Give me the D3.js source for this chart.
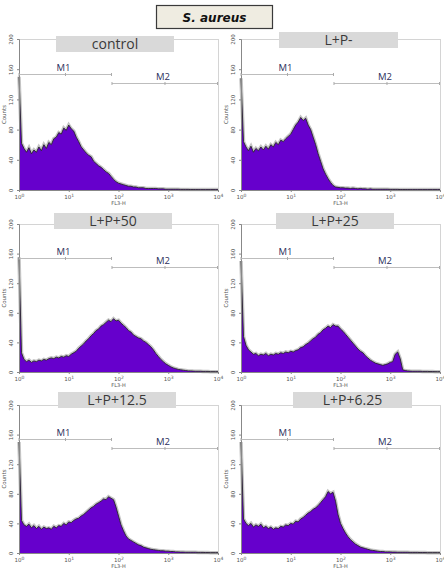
<!DOCTYPE html>
<html><head><meta charset="utf-8">
<script src="https://cdn.jsdelivr.net/npm/d3@7"></script>
<style>body{margin:0;background:#fff}svg{display:block}</style>
</head><body><svg id="c" width="444" height="569"></svg>
<script>
const chartTitle = "S. aureus";
const panelLabels = ["control","L+P-","L+P+50","L+P+25","L+P+12.5","L+P+6.25"];
const yTicks = [0,40,80,120,160,200];
const xTicks = [1,10,100,1000,10000];
const xTickExp = ["0","1","2","3","4"];
const markerNames = ["M1","M2"];
const markerRanges = [[1,74],[74,10000]];
const markerLevels = [154,142];
const xLabel = "FL3-H";
const yLabel = "Counts";

const histControl = [150,62,55,50,56,48,53,50,57,52, 60,55,63,60,68,70,76,74,82,79, 86,81,78,70,64,57,53,49,46,44, 38,35,32,30,27,24,22,18,14,11, 9,8,7,6,5,5,4,4,3,3, 3,2,2,2,2,2,1.5,1.5,1.5,1, 1,1,1,1,1,0.8,0.8,0.8,0.8,0.6, 0.6,0.6,0.5,0.5,0.5,0.5,0.5,0.5,0.5,0.5];
const histLPminus = [148,64,57,52,58,50,55,52,57,53, 58,54,60,57,63,60,66,64,68,71, 74,80,86,90,96,92,95,86,80,70, 60,48,38,28,21,15,10,6,4,3.5, 3,3,2.5,2.5,2,2.5,2,1.5,2,1.5, 1.5,1,1.5,1,1,1,1,1,1,1, 0.8,0.8,0.8,0.8,0.6,0.6,0.6,0.6,0.5,0.5, 0.5,0.5,0.5,0.5,0.5,0.5,0.5,0.5,0.5,0.5];
const histLP50 = [155,26,17,14,16,13,15,14,16,15, 17,16,18,19,18,20,19,21,20,22, 21,24,26,28,32,35,38,42,45,49, 52,56,58,62,64,67,70,68,72,69, 70,66,63,60,56,54,50,48,46,45, 42,40,37,34,30,25,21,17,14,11, 9,7,5.5,4.5,3.5,3,2.5,2,1.5,1.5, 1.2,1,1,1,0.8,0.8,0.8,0.5,0.5,0.5];
const histLP25 = [150,48,36,30,27,24,25,22,24,23, 25,22,24,23,25,24,26,25,27,26, 28,27,29,30,33,34,37,39,42,45, 47,51,53,57,59,62,60,64,62,62, 58,55,51,47,43,39,35,31,28,26, 22,19,16,14,12,11,10,9,10,11, 13,14,24,27,18,3,2,1.5,1.2,1, 1,1,1,0.8,0.8,0.8,0.6,0.6,0.5,0.5];
const histLP12 = [150,44,38,36,39,34,37,33,36,32, 35,33,34,32,36,34,37,36,40,38, 42,41,44,46,47,50,52,55,58,61, 63,66,68,70,73,72,76,74,72,62, 50,38,30,23,19,17,15,13,11,10, 8,7,6,5,4.5,4,3.5,3,3,2.5, 2.5,2,2,1.5,1.5,1.2,1.2,1,1,1, 1,1,0.8,0.8,0.8,0.6,0.6,0.5,0.5,0.5];
const histLP6 = [150,46,40,37,40,35,38,36,39,34, 36,33,35,32,34,33,36,35,38,37, 40,39,43,42,46,48,51,54,56,59, 61,64,68,72,76,83,80,82,70,52, 40,33,27,22,18,15,12,10,8,7, 6,5,4,3.5,3,2.5,2,2,1.5,1.5, 1.5,1.2,1.2,1,1,1,1,1,0.8,0.8, 0.8,0.8,0.6,0.6,0.6,0.5,0.5,0.5,0.5,0.5];
const histograms = [histControl, histLPminus, histLP50, histLP25, histLP12, histLP6];

// layout (pixel geometry, kept separate from data)
const layout = [
  {x0:19, x1:218, y0:39, y1:190, bx:56, bw:118, by:36},
  {x0:241,x1:440, y0:39, y1:190, bx:279,bw:119, by:32},
  {x0:19, x1:218, y0:224,y1:372, bx:54, bw:118, by:213},
  {x0:241,x1:440, y0:224,y1:372, bx:276,bw:118, by:213},
  {x0:19, x1:218, y0:405,y1:553, bx:58, bw:118, by:392},
  {x0:241,x1:440, y0:405,y1:553, bx:293,bw:119, by:392}
];

const svg = d3.select("#c");

// title box
svg.append("rect").attr("x",156.5).attr("y",5.5).attr("width",116).attr("height",23)
  .attr("fill","#efece1").attr("stroke","#3a3a3a").attr("stroke-width",1.2);
svg.append("text").attr("x",214.5).attr("y",21.5).attr("text-anchor","middle")
  .attr("font-family","DejaVu Sans").attr("font-weight","bold").attr("font-style","italic")
  .attr("font-size",12).attr("fill","#111").text(chartTitle);

histograms.forEach((vals, k) => {
  const L = layout[k];
  const g = svg.append("g");
  const x = d3.scaleLog().domain([1,10000]).range([L.x0, L.x1]);
  const y = d3.scaleLinear().domain([0,200]).range([L.y1, L.y0]);
  const step = 4 / vals.length;
  const pts = vals.map((v,i) => ({e: Math.pow(10, i*step), v}));
  pts.push({e: 10000, v: vals[vals.length-1]});

  // frame (light)
  g.append("line").attr("x1",L.x0).attr("x2",L.x1).attr("y1",L.y0+0.5).attr("y2",L.y0+0.5).attr("stroke","#d4d4d4");
  g.append("line").attr("x1",L.x1+0.5).attr("x2",L.x1+0.5).attr("y1",L.y0).attr("y2",L.y1).attr("stroke","#d4d4d4");

  // histogram
  const area = d3.area().curve(d3.curveLinear).x(d=>x(d.e)).y0(y(0)).y1(d=>y(d.v));
  const line = d3.line().curve(d3.curveLinear).x(d=>x(d.e)).y(d=>y(d.v));
  g.append("path").datum(pts).attr("d",line).attr("fill","none")
    .attr("stroke","#8a8a8a").attr("stroke-width",3.5).attr("stroke-opacity",0.5);
  g.append("path").datum(pts).attr("d",area).attr("fill","#6600cc");
  g.append("path").datum(pts).attr("d",line).attr("fill","none")
    .attr("stroke","#222").attr("stroke-width",1).attr("stroke-opacity",0.85);

  // axes
  const ya = g.append("g").attr("transform",`translate(${L.x0},0)`)
    .call(d3.axisLeft(y).tickValues(yTicks).tickSize(2).tickFormat(""));
  ya.select(".domain").attr("stroke","#888");
  ya.selectAll(".tick line").attr("stroke","#888");
  ya.selectAll(".tick").append("text").attr("transform","translate(-6,0) rotate(-90)")
    .attr("text-anchor","middle").attr("font-size",5.5).attr("font-family","DejaVu Sans")
    .attr("fill","#555").attr("stroke","none").text(d=>d);

  const xa = g.append("g").attr("transform",`translate(0,${L.y1})`)
    .call(d3.axisBottom(x).tickValues(xTicks).tickSize(2).tickFormat(""));
  xa.select(".domain").attr("stroke","#888");
  xa.selectAll(".tick line").attr("stroke","#888");
  xa.selectAll(".tick").each(function(d,i){
    const t = d3.select(this).append("text").attr("y",9).attr("text-anchor","middle")
      .attr("font-size",5.5).attr("font-family","DejaVu Sans").attr("fill","#555");
    t.append("tspan").text("10");
    t.append("tspan").attr("dy",-2.5).attr("font-size",4.5).text(xTickExp[i]);
  });
  g.append("text").attr("x",(L.x0+L.x1)/2).attr("y",L.y1+15).attr("text-anchor","middle")
    .attr("font-size",5).attr("font-family","DejaVu Sans").attr("fill","#555").text(xLabel);
  g.append("text").attr("transform",`translate(${L.x0-13},${(L.y0+L.y1)/2}) rotate(-90)`)
    .attr("text-anchor","middle").attr("font-size",5.5).attr("font-family","DejaVu Sans")
    .attr("fill","#555").text(yLabel);

  // markers
  markerNames.forEach((m,j) => {
    const [a,b] = markerRanges[j];
    const yy = Math.round(y(markerLevels[j])) + 0.5;
    const xa0 = x(a), xb0 = x(b), xm = x(Math.sqrt(a*b));
    g.append("line").attr("x1",xa0).attr("x2",xb0).attr("y1",yy).attr("y2",yy).attr("stroke","#bdbdbd");
    [xa0, xb0 - 0.5, xm].forEach(px => {
      g.append("line").attr("x1",px).attr("x2",px).attr("y1",yy-1.5).attr("y2",yy+1.5).attr("stroke","#aaa");
    });
    g.append("text").attr("x",xm-2).attr("y",yy-4).attr("text-anchor","middle")
      .attr("font-family","Open Sans").attr("font-size",9.5).attr("fill","#2c2f5c").text(m);
  });

  // label box
  g.append("rect").attr("x",L.bx).attr("y",L.by).attr("width",L.bw).attr("height",16).attr("fill","#d9d9d9");
  g.append("text").attr("x",L.bx+L.bw/2).attr("y",L.by+13).attr("text-anchor","middle")
    .attr("font-family","Open Sans").attr("font-size",14).attr("fill","#3a3a3a").text(panelLabels[k]);
});
</script></body></html>
